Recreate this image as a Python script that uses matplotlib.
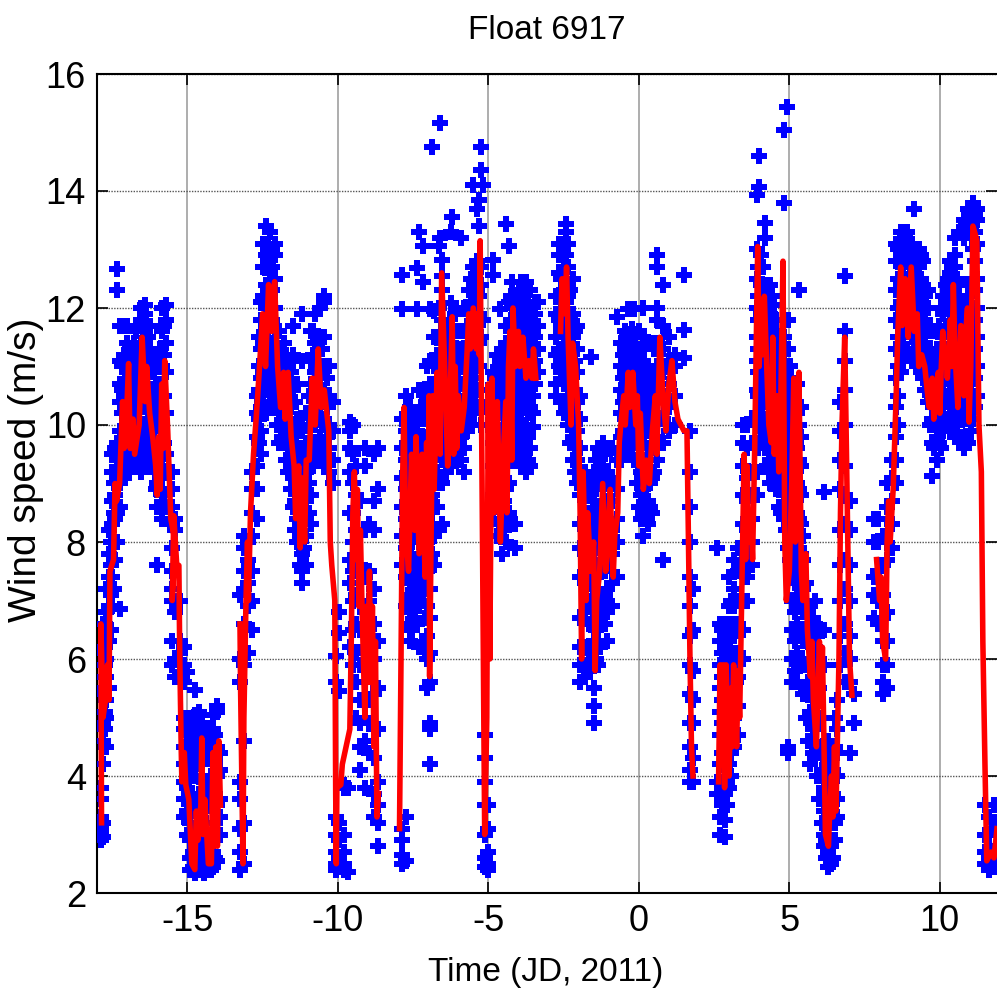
import numpy as np
import matplotlib
matplotlib.use("Agg")
import matplotlib.pyplot as plt

plt.rcParams['font.family'] = ['Liberation Sans', 'DejaVu Sans']
plt.rcParams['axes.unicode_minus'] = False

# blue samples: time -> wind speeds seen at that time
burst_a = {
    -17.88: [2.9, 3.0, 3.1, 3.3, 3.6, 3.8],
    -17.8: [2.95, 3.2, 4.2, 4.6, 4.9, 5.4, 5.7, 6.1, 6.6],
    -17.7: [4.5, 5.0, 5.3, 5.7, 6.0, 6.4, 6.8, 7.2],
    -17.6: [5.5, 6.3, 6.9, 7.4, 7.8, 8.2],
    -17.5: [6.9, 7.4, 8.3, 8.7, 9.2, 9.5],
    -17.4: [7.7, 8.4, 8.8, 9.2, 9.6],
    -17.34: [8.0, 8.5, 9.0, 9.4, 9.7, 12.3, 12.67],
    -17.24: [6.85, 8.6, 9.0, 9.5, 9.9, 10.4, 10.7, 11.1, 11.7],
    -17.1: [9.1, 9.5, 9.9, 10.5, 11.2, 11.7],
    -17.0: [9.2, 9.6, 10.0, 10.4, 10.9, 11.4, 11.7],
    -16.85: [9.3, 9.7, 10.1, 10.6, 11.1],
    -16.7: [9.4, 9.9, 10.3, 10.8, 11.2, 11.6],
    -16.55: [9.2, 9.6, 10.0, 10.5, 11.0, 11.4, 11.8, 12.0],
    -16.4: [9.3, 9.8, 10.3, 10.9, 11.4, 11.9, 12.05],
    -16.25: [9.5, 9.9, 10.4, 10.9, 11.3, 11.7],
    -16.1: [9.4, 9.9, 10.4, 10.9, 11.2],
    -16.0: [7.6, 8.6, 9.0, 9.5, 10.0, 10.5, 11.0],
    -15.85: [8.4, 8.8, 9.3, 9.9, 10.5, 11.0, 11.6, 12.0],
    -15.7: [8.6, 9.5, 10.2, 10.9, 11.4, 11.8, 12.05],
    -15.5: [5.9, 6.3, 7.0, 7.2, 7.5, 7.9, 8.3, 8.6, 8.9, 9.2],
    -15.4: [5.7, 6.0, 6.8, 7.0, 8.2, 8.4],
    -15.25: [5.9, 6.1, 6.3, 7.0],
    -15.1: [3.3, 3.6, 3.9, 4.2, 4.5, 4.8, 5.0, 5.6, 5.9, 6.2],
    -15.0: [3.0, 3.4, 3.8, 4.1, 4.4, 4.7, 5.0, 5.78],
    -14.9: [2.4, 2.6, 2.9, 3.2, 3.6, 4.4, 4.8, 5.0],
    -14.75: [2.35, 2.5, 2.8, 3.1, 3.5, 4.0, 4.5, 5.05, 5.47],
    -14.6: [2.4, 2.7, 3.2, 3.7, 4.2, 4.6, 5.1],
    -14.45: [2.35, 2.6, 3.0, 3.4, 3.9],
    -14.3: [2.4, 2.6, 3.0, 3.5, 4.4, 4.7],
    -14.15: [2.45, 2.7, 3.2, 3.8, 4.3, 4.8, 5.05],
    -14.0: [2.55, 3.0, 3.5, 4.0, 4.5, 5.1, 5.2],
    -13.9: [3.0, 3.3, 3.6, 4.1, 4.4],
}
burst_b = {
    -13.25: [2.4, 2.7, 3.1, 3.6, 3.9, 5.6, 6.0, 7.1],
    -13.1: [2.5, 3.2, 4.6, 5.9, 6.6, 7.2, 7.5, 7.9, 8.1],
    -13.0: [6.1, 6.9, 7.3, 7.7, 8.0],
    -12.85: [6.5, 7.0, 7.5, 8.1, 8.5, 8.9, 9.2],
    -12.7: [8.4, 8.9, 9.3, 9.8, 10.2, 10.5],
    -12.55: [9.5, 9.9, 10.3, 10.8, 11.3, 11.8, 12.1],
    -12.4: [10.2, 10.7, 11.2, 11.6, 12.0, 12.4, 12.9, 13.4],
    -12.25: [10.4, 10.9, 11.4, 11.8, 12.2, 12.6, 13.0, 13.3],
    -12.1: [10.3, 10.8, 11.2, 11.6, 12.0, 12.5, 12.9, 13.1],
    -11.95: [9.7, 10.2, 10.7, 11.1, 11.6],
    -11.8: [10.0, 10.5, 10.9, 11.4],
    -11.65: [9.2, 9.6, 10.1, 10.6, 11.0],
    -11.5: [8.6, 9.1, 9.5, 10.0, 10.6, 11.2, 11.7],
    -11.35: [8.0, 8.4, 8.9, 9.4, 10.1, 10.7],
    -11.2: [7.3, 7.5, 7.8, 8.3, 8.8, 9.3, 9.9, 11.1, 11.9],
    -11.05: [7.6, 8.1, 8.7, 9.2, 9.7, 10.2],
    -10.9: [8.3, 8.8, 9.3, 9.7, 10.2, 10.7, 11.1, 11.6],
    -10.75: [9.5, 10.0, 10.5, 10.9, 11.4, 11.9],
    -10.6: [9.4, 9.8, 10.3, 10.8, 11.3, 12.0],
    -10.45: [9.3, 9.7, 10.1, 10.6, 11.0, 11.5, 12.1, 12.2],
    -10.3: [9.2, 9.6, 10.0, 10.5, 11.0],
    -10.15: [9.0, 9.4, 9.9, 10.4],
    -10.05: [2.4, 2.5, 2.7, 3.0, 3.3, 5.6, 6.05],
    -9.95: [2.45, 2.6, 2.9, 3.2, 5.45, 6.45, 6.8],
    -9.8: [2.4, 2.5, 2.7, 3.0, 3.8, 3.85],
    -9.65: [2.36, 3.8],
}
burst_c = {
    -9.6: [6.2, 7.3, 7.7, 8.5, 9.2, 9.6, 9.9, 10.05],
    -9.5: [5.9, 6.5, 7.0, 7.5, 8.0, 8.5, 9.0, 9.5, 10.0],
    -9.4: [5.0, 5.6, 6.1, 6.6, 7.1, 7.6, 8.2, 8.8, 9.3],
    -9.25: [4.1, 4.5, 4.9, 5.3, 5.9, 6.5, 7.0, 7.6, 8.7],
    -9.1: [3.8, 4.6, 5.0, 5.6, 6.2, 6.8, 7.4, 8.2, 9.3, 9.6],
    -8.95: [4.4, 4.9, 5.3, 5.9, 6.4, 7.0, 7.5, 8.3],
    -8.8: [3.3, 3.7, 4.3, 4.8, 5.4, 6.0, 6.6, 7.2, 8.2, 8.7, 9.5],
    -8.65: [2.8, 3.2, 3.5, 3.9, 4.8, 5.5, 6.3, 8.9, 9.6],
}
burst_d = {
    -7.87: [2.5, 2.65, 2.9, 3.1, 7.6, 8.1, 8.6, 9.1, 9.6, 10.1, 11.98, 12.57],
    -7.75: [2.55, 3.3, 6.9, 7.4, 7.9, 8.4, 8.9, 9.4, 9.9, 10.5],
    -7.6: [6.3, 6.8, 7.3, 7.8, 8.3, 8.8, 9.3, 9.8, 10.3],
    -7.45: [6.7, 7.2, 7.7, 8.2, 8.7, 9.2, 9.7, 10.2],
    -7.38: [11.98, 12.68],
    -7.31: [6.2, 6.9, 7.4, 8.0, 8.5, 9.1, 9.6, 10.1, 10.6, 13.3],
    -7.17: [7.0, 7.6, 8.1, 8.6, 9.1, 9.6, 10.1, 10.6, 12.44, 13.06],
    -7.05: [5.5, 6.0, 6.4, 6.9, 7.5, 8.0, 8.5, 9.0, 9.6, 10.1, 10.5, 11.0],
    -6.94: [4.2, 4.8, 4.9, 5.6, 6.1, 6.7, 7.2, 7.7, 8.2, 8.7, 9.2, 9.8, 10.3, 10.7, 11.1, 11.98],
    -6.88: [14.75],
    -6.8: [7.6, 8.1, 8.6, 9.0, 9.5, 10.0, 10.5, 11.0, 11.5, 11.95],
    -6.64: [8.2, 9.0, 9.5, 10.0, 10.5, 11.0, 11.5, 12.0, 13.06],
    -6.61: [13.2, 15.16],
    -6.54: [8.3, 9.0, 9.4, 10.0, 10.4, 10.9, 11.4, 11.8, 12.3, 12.55, 12.82],
    -6.4: [9.2, 9.6, 10.0, 10.4, 10.9, 11.4, 11.7],
    -6.25: [9.3, 9.7, 10.1, 10.5, 11.0, 11.4, 12.08, 13.3],
    -6.21: [13.56],
    -6.1: [9.5, 9.9, 10.3, 10.7, 11.1, 11.6, 11.9],
    -5.91: [9.4, 9.8, 10.2, 10.7, 11.1, 11.6, 13.2],
    -5.8: [9.2, 9.6, 10.0, 10.4, 11.2, 11.6, 12.0],
    -5.65: [10.1, 10.5, 10.9, 11.4, 11.9, 12.3],
    -5.51: [10.2, 10.6, 11.0, 11.4, 11.9, 12.3, 12.7, 14.1],
    -5.38: [10.3, 10.6, 11.0, 11.4, 11.9, 12.3, 12.8, 13.7],
    -5.31: [10.3, 10.6, 11.0, 11.4, 11.9, 12.2, 12.7, 13.4, 13.85],
    -5.25: [10.0, 10.3, 11.5, 12.4, 12.7, 14.36, 14.75],
    -5.18: [10.3, 11.8, 14.1],
    -5.1: [2.45, 2.6, 3.0, 3.5, 3.9, 4.3, 4.7],
    -5.0: [2.4, 2.5, 2.7, 3.1, 3.5, 10.0, 10.3, 10.6],
}
burst_e = {
    -4.85: [8.4, 8.8, 9.3, 9.7, 10.2, 10.6, 10.9, 12.57, 12.82],
    -4.7: [8.1, 8.6, 9.1, 9.5, 10.0, 10.5, 10.9, 11.2],
    -4.62: [11.98],
    -4.55: [7.8, 8.3, 8.8, 9.3, 9.7, 10.2, 10.6, 11.0, 11.3],
    -4.42: [8.0, 8.4, 8.9, 9.3, 9.8, 10.2, 10.6, 11.0, 11.4, 11.7, 13.43],
    -4.32: [8.5, 9.0, 9.5, 9.9, 10.3, 10.7, 11.2, 11.7, 12.1, 13.06],
    -4.2: [9.5, 10.0, 10.3, 10.8, 11.2, 11.6, 12.0, 12.44],
    -4.1: [7.9, 8.3],
    -4.05: [9.4, 9.8, 10.2, 10.7, 11.1, 11.5, 11.9, 12.2],
    -3.9: [9.3, 9.7, 10.2, 10.6, 11.0, 11.4, 11.8, 12.2, 12.44],
    -3.75: [9.2, 9.6, 10.0, 10.4, 10.8, 11.2, 11.6, 12.0, 12.44],
    -3.6: [9.3, 9.6, 10.3, 10.7, 11.1, 11.5, 11.9, 12.3],
    -3.52: [9.97, 10.2],
    -3.45: [10.7, 11.1, 11.5, 11.9, 12.1],
    -3.35: [10.9, 11.3, 11.7, 12.1],
}
burst_f = {
    -2.75: [10.5, 10.7, 11.2, 11.5, 11.9, 12.2],
    -2.65: [11.0, 11.3, 11.8, 12.2, 12.6, 12.9, 13.1],
    -2.5: [10.2, 10.7, 11.1, 11.5, 11.9, 12.3, 12.7, 13.1],
    -2.43: [13.3, 13.43],
    -2.35: [10.0, 10.5, 11.1, 11.6, 12.2, 12.7, 13.1],
    -2.2: [9.4, 9.8, 10.3, 10.9, 11.5, 11.9, 12.5],
    -2.05: [9.0, 9.4, 9.9, 10.4, 10.9, 11.3, 11.7],
    -1.95: [5.6, 5.9, 6.2, 6.7, 7.4, 7.9, 8.3, 8.8, 9.2, 9.6, 10.1, 10.5],
    -1.8: [5.7, 5.9, 6.2, 6.8, 7.3, 7.8, 8.3, 8.8, 9.2],
    -1.65: [5.8, 6.1, 6.6, 7.0, 7.5, 8.0, 8.5, 9.0],
    -1.59: [11.16],
    -1.5: [4.9, 5.2, 5.5, 5.9, 6.3, 6.8, 7.2, 7.7, 8.2, 8.7, 9.2],
    -1.35: [5.9, 6.3, 6.7, 7.1, 7.6, 8.1, 8.6, 9.1, 9.6],
    -1.2: [6.6, 7.0, 7.5, 7.9, 8.4, 8.9, 9.3, 9.7],
    -1.05: [6.3, 6.8, 7.2, 7.7, 8.2, 8.7, 9.2, 9.6],
    -0.9: [6.9, 7.3, 7.8, 8.2, 8.7, 9.1, 9.6],
    -0.73: [7.4, 8.0, 8.4, 8.9, 9.4, 11.85],
    -0.6: [9.4, 9.8, 10.2, 10.6, 11.0, 11.4],
    -0.45: [9.7, 10.1, 10.5, 10.9, 11.3, 11.6],
    -0.37: [11.98],
    -0.3: [9.8, 10.2, 10.6, 11.0, 11.4],
    -0.23: [11.64],
    -0.15: [9.4, 9.9, 10.4, 10.8, 11.3, 11.98],
    0.0: [8.6, 9.0, 9.4, 9.8, 10.2, 10.7, 11.2, 11.6],
    0.15: [8.1, 8.5, 8.9, 9.3, 9.7, 10.2, 10.6, 11.1, 11.5, 12.0],
    0.3: [8.3, 8.7, 9.2, 9.6, 10.1, 10.5, 10.9],
    0.45: [8.5, 9.1, 9.6, 10.0, 10.4, 10.8, 11.4],
    0.6: [9.4, 9.8, 10.2, 10.6, 11.0, 11.4, 11.8, 12.0, 12.7, 12.9],
    0.8: [7.7, 9.7, 10.1, 10.5, 10.9, 11.3, 11.7, 12.4],
    1.0: [9.9, 10.3, 10.7, 11.1, 11.5],
    1.2: [10.0, 10.5, 11.0, 11.2],
    1.5: [11.15, 11.62, 12.56],
    1.7: [3.9, 4.1, 4.5, 4.9, 5.4, 5.9, 6.4, 6.9, 7.4, 8.0, 8.6, 9.2, 9.9],
    1.8: [3.9, 4.3, 4.9, 5.3, 5.8, 6.5, 7.2],
}
burst_g = {
    2.6: [3.7, 3.9, 7.9],
    2.7: [3.0, 3.3, 3.7, 4.2, 4.7, 5.1, 5.5, 5.9, 6.3, 6.6],
    2.85: [2.95, 3.25, 3.7, 4.1, 4.6, 5.0, 5.4, 5.8, 6.2, 6.6],
    3.0: [3.8, 4.2, 4.6, 5.0, 5.4, 5.9, 6.4, 6.9, 7.4],
    3.15: [4.5, 5.0, 5.4, 5.9, 6.4, 6.9, 7.2, 7.7],
    3.3: [4.7, 5.2, 5.7, 6.1, 6.6, 7.0, 7.5, 7.9],
}
burst_h = {
    3.45: [6.0, 6.5, 7.0, 7.5, 7.9, 8.3, 8.8, 9.3, 9.7, 10.0],
    3.6: [7.0, 7.4, 7.8, 8.2, 8.7, 9.1, 9.6, 10.0],
    3.75: [7.6, 8.0, 8.4, 8.8, 9.2, 9.7, 10.1],
    3.92: [8.8, 9.2, 9.7, 10.2, 10.6, 11.1, 11.5, 12.0, 12.5, 13.0, 13.93],
    3.98: [14.06, 14.6],
    4.05: [9.9, 10.3, 10.7, 11.1, 11.5, 11.9, 12.4, 12.9],
    4.19: [9.6, 10.0, 10.4, 10.8, 11.2, 11.6, 12.0, 12.4, 13.2, 13.45],
    4.35: [9.0, 9.4, 9.8, 10.3, 10.7, 11.1, 11.6, 11.9, 12.4],
    4.5: [9.1, 9.5, 9.9, 10.3, 10.8, 11.2, 11.6, 12.05],
    4.65: [8.6, 9.0, 9.5, 9.9, 10.4, 10.8, 11.2, 11.5],
    4.82: [8.4, 8.8, 9.2, 9.7, 10.1, 10.6, 11.0, 11.5, 13.8, 15.04],
    4.92: [15.44],
    4.97: [4.4, 4.5, 7.9, 8.4, 8.9, 9.4, 9.9, 10.3, 10.8, 11.3, 11.8],
    5.1: [5.6, 6.0, 6.5, 7.0, 7.5, 8.0, 8.5, 9.0, 9.6, 10.2, 10.7],
    5.25: [5.6, 6.1, 6.6, 7.1, 7.6, 8.1, 8.5, 9.0, 9.6, 10.2, 10.7],
    5.32: [12.3],
    5.4: [6.0, 6.5, 7.0, 7.4, 7.8, 8.3, 8.8, 9.3, 9.8, 10.3],
    5.55: [5.0, 5.5, 5.9, 6.4, 6.8, 7.3],
    5.7: [4.2, 4.6, 5.1, 5.6, 6.0, 6.5, 6.9],
    5.85: [4.4, 4.8, 5.3, 5.8, 6.2, 6.6, 7.0],
    6.0: [3.6, 4.0, 4.5, 5.0, 5.5, 6.0, 6.5],
    6.15: [2.8, 3.0, 3.4, 3.8, 4.3, 5.9, 6.5, 8.85],
    6.3: [2.45, 2.7, 3.0, 3.4, 3.8, 4.2, 4.6],
    6.45: [2.6, 2.9, 3.3, 3.7, 4.1, 4.5],
    6.6: [3.3, 3.6, 4.0, 4.4, 4.8, 5.3],
    6.7: [5.9, 6.4, 7.0, 7.6, 8.2, 8.9, 9.4, 9.9, 10.4],
    6.85: [5.6, 6.1, 6.6, 7.2, 7.7, 8.3, 8.8, 9.3, 10.0, 10.6, 11.1, 11.6, 12.55],
    7.0: [4.4, 5.6, 6.0, 6.4, 7.0, 7.6, 8.2, 8.7],
    7.15: [4.9, 5.4],
}
burst_i = {
    7.8: [6.7, 7.1, 7.4, 8.0, 8.4],
    7.95: [6.6, 7.0, 7.5, 8.0, 8.4],
    8.1: [5.4, 5.6, 5.9, 6.3, 6.7, 7.1, 7.6, 8.1],
    8.25: [5.5, 5.9, 6.3, 6.8, 7.7, 8.6, 9.0],
    8.4: [7.9, 8.3, 8.7, 9.1, 9.4],
    8.55: [9.0, 9.4, 9.8, 10.3, 10.8, 11.3, 11.8, 12.3, 12.8, 13.1],
    8.7: [10.9, 11.3, 11.7, 12.1, 12.5, 12.9, 13.3],
    8.85: [11.2, 11.6, 12.0, 12.4, 12.8, 13.2],
    9.0: [11.2, 11.6, 11.9, 12.3, 12.7, 13.1],
    9.15: [11.1, 11.5, 11.9, 12.3, 12.7, 13.7],
    9.3: [11.0, 11.4, 11.9, 12.3, 12.7, 13.0],
    9.45: [10.8, 11.2, 11.6, 12.0, 12.4, 12.8],
    9.6: [10.4, 10.8, 11.2, 11.6, 12.0, 12.3],
    9.75: [9.13, 9.7, 10.1, 10.5, 10.9, 11.2, 11.6],
    9.9: [9.4, 9.8, 10.2, 10.5, 10.9, 11.3],
    10.05: [9.6, 10.0, 10.4, 10.8, 11.2, 11.6, 12.0],
    10.2: [10.1, 10.5, 10.9, 11.3, 11.7, 12.1, 12.4],
    10.35: [9.9, 10.3, 10.7, 11.1, 11.5, 11.9, 12.3, 12.6, 12.8],
    10.5: [9.8, 10.2, 10.6, 11.0, 11.4, 11.8, 12.2, 12.7, 12.9, 13.2],
    10.65: [9.8, 10.2, 10.6, 11.0, 11.4, 11.8, 12.2, 13.3],
    10.8: [9.6, 10.1, 10.5, 10.9, 11.3, 11.7, 12.1, 13.2, 13.5],
    10.95: [9.7, 10.1, 10.5, 10.9, 11.4, 11.9, 12.4, 13.3, 13.7],
    11.1: [10.1, 10.5, 11.0, 11.5, 12.0, 12.5, 13.0, 13.5, 13.8],
    11.25: [10.5, 11.0, 11.5, 12.0, 12.5, 13.1, 13.5, 13.7],
    11.5: [2.5, 2.7, 3.0, 3.5],
    11.65: [2.4, 2.6, 3.0, 3.3],
    11.8: [2.45, 2.7, 3.1, 3.5],
    11.9: [2.5, 2.8, 3.2, 3.5],
}
# samples in the solid blue parts, between the columns above
dense_left = {
    -17.75: [4.8, 5.1, 5.5, 5.9, 6.2, 6.6], -17.55: [6.5, 7.1, 7.6, 8.0], -17.45: [7.2, 8.0, 8.5, 9.0],
    -17.17: [9.3, 9.7, 10.2, 10.6, 11.0], -17.05: [9.4, 9.8, 10.2, 10.7, 11.1], -16.92: [9.5, 9.9, 10.3, 10.8, 11.3],
    -16.78: [9.6, 10.1, 10.5, 11.0, 11.4], -16.62: [9.4, 9.8, 10.3, 10.7, 11.2, 11.7], -16.48: [9.5, 10.0, 10.6, 11.1, 11.6],
    -16.32: [9.7, 10.1, 10.6, 11.1, 11.5], -16.18: [9.6, 10.1, 10.6, 11.0], -16.05: [8.9, 9.2, 9.7, 10.2, 10.7],
    -15.92: [8.6, 9.1, 9.6, 10.2, 10.7, 11.3], -15.78: [8.8, 9.7, 10.5, 11.2, 11.7],
    -14.82: [2.45, 2.7, 3.0, 3.4, 4.2, 4.6, 4.9], -14.68: [2.4, 2.6, 3.0, 3.4, 4.3, 4.8],
    -14.52: [2.5, 2.9, 3.5, 4.0, 4.4, 4.9], -14.37: [2.45, 2.8, 3.2, 4.5], -14.22: [2.4, 2.9, 3.5, 4.0, 4.6],
    -14.07: [2.6, 3.2, 3.7, 4.2, 4.7],
    -12.62: [9.7, 10.1, 10.6, 11.0, 11.5], -12.47: [10.4, 10.9, 11.4, 11.8, 12.2, 12.7, 13.1],
    -12.32: [10.6, 11.1, 11.6, 12.0, 12.4, 12.8, 13.1], -12.17: [10.6, 11.0, 11.4, 11.8, 12.3, 12.7, 13.0],
    -12.02: [10.0, 10.5, 10.9, 11.3], -11.87: [9.8, 10.3, 10.7, 11.2], -11.72: [9.4, 9.9, 10.3, 10.8, 11.2],
    -11.57: [8.9, 9.3, 9.8, 10.3, 10.9], -11.42: [8.2, 8.7, 9.2, 9.7, 10.4], -11.27: [7.6, 8.1, 8.6, 9.1, 9.6],
    -11.12: [7.9, 8.4, 8.9, 9.4], -10.97: [8.5, 9.0, 9.5, 10.0, 10.5], -10.82: [9.3, 9.7, 10.2, 10.7, 11.2, 11.6],
    -10.67: [9.6, 10.1, 10.6, 11.0, 11.5], -10.52: [9.5, 10.0, 10.4, 10.9, 11.3], -10.37: [9.4, 9.8, 10.3, 10.8],
}
dense_middle = {
    -7.68: [6.6, 7.1, 7.6, 8.1, 8.6, 9.1, 9.6, 10.1], -7.52: [6.5, 7.0, 7.5, 8.0, 8.5, 9.0, 9.5, 10.0],
    -7.38: [6.6, 7.1, 7.6, 8.2, 8.8, 9.4, 9.9], -7.24: [7.3, 7.8, 8.3, 8.8, 9.3, 9.8, 10.3],
    -7.1: [6.2, 6.7, 7.2, 7.7, 8.2, 8.7, 9.3, 9.8, 10.3], -6.87: [7.8, 8.3, 8.8, 9.2, 9.7, 10.2, 10.7],
    -6.7: [8.6, 9.2, 9.7, 10.2, 10.7, 11.2], -6.47: [9.4, 9.8, 10.2, 10.6, 11.1, 11.5], -6.32: [9.5, 9.9, 10.3, 10.7, 11.2],
    -6.17: [9.7, 10.1, 10.5, 10.9, 11.3], -6.0: [9.6, 10.0, 10.5, 10.9, 11.3], -5.72: [9.9, 10.3, 10.7, 11.2, 11.7],
    -5.58: [10.0, 10.4, 10.8, 11.2, 11.7, 12.1, 12.5], -5.44: [10.4, 10.8, 11.2, 11.6, 12.1, 12.5],
    -4.78: [8.6, 9.0, 9.5, 9.9, 10.4, 10.8], -4.62: [8.4, 8.9, 9.4, 9.8, 10.3, 10.7, 11.1],
    -4.48: [8.2, 8.7, 9.1, 9.6, 10.0, 10.4, 10.8, 11.2], -4.26: [9.8, 10.2, 10.6, 11.0, 11.4, 11.8, 12.2],
    -4.12: [9.7, 10.1, 10.5, 10.9, 11.3, 11.7, 12.1], -3.97: [9.5, 9.9, 10.4, 10.8, 11.2, 11.6, 12.0, 12.3],
    -3.82: [9.5, 9.9, 10.3, 10.7, 11.1, 11.5, 11.9, 12.3], -3.67: [9.4, 9.8, 10.2, 10.5, 10.9, 11.3, 11.7, 12.1],
    -3.5: [10.5, 10.9, 11.3, 11.7],
    -2.58: [10.4, 10.9, 11.3, 11.7, 12.1, 12.5, 12.9], -2.42: [10.3, 10.8, 11.3, 11.7, 12.1, 12.5, 12.9],
    -2.28: [9.7, 10.2, 10.8, 11.3, 11.8, 12.3], -2.12: [9.2, 9.6, 10.1, 10.6, 11.1, 11.6],
    -1.42: [6.0, 6.5, 6.9, 7.4, 7.9, 8.4, 8.9, 9.4], -1.28: [6.2, 6.6, 7.0, 7.5, 8.0, 8.5, 9.0, 9.5],
    -1.12: [6.6, 7.1, 7.5, 8.0, 8.5, 9.0, 9.5], -0.52: [9.5, 9.9, 10.4, 10.8, 11.2], -0.38: [9.9, 10.3, 10.7, 11.1, 11.5],
    -0.22: [9.6, 10.0, 10.5, 10.9, 11.3], -0.07: [9.0, 9.4, 9.8, 10.2, 10.6, 11.0],
    0.08: [8.4, 8.8, 9.2, 9.6, 10.0, 10.4, 10.9, 11.3], 0.22: [8.5, 9.0, 9.4, 9.9, 10.3, 10.8],
    0.38: [8.6, 9.0, 9.4, 9.9, 10.3, 10.7], 0.52: [9.2, 9.7, 10.1, 10.5, 10.9, 11.3],
}
dense_right = {
    2.77: [3.5, 3.9, 4.4, 4.9, 5.3, 5.7, 6.1, 6.5], 2.92: [3.5, 3.9, 4.4, 4.8, 5.2, 5.6, 6.0, 6.4],
    3.07: [4.0, 4.4, 4.8, 5.2, 5.7, 6.1, 6.6, 7.0], 3.22: [4.7, 5.2, 5.6, 6.1, 6.6, 7.0],
    3.97: [9.6, 10.0, 10.5, 10.9, 11.3, 11.8, 12.2, 12.7], 4.12: [9.7, 10.1, 10.5, 11.0, 11.4, 11.8, 12.2, 12.7],
    4.27: [9.3, 9.7, 10.1, 10.5, 11.0, 11.4, 11.8, 12.2], 4.42: [9.2, 9.6, 10.1, 10.5, 10.9, 11.3, 11.8, 12.2],
    4.57: [8.9, 9.3, 9.7, 10.1, 10.6, 11.0, 11.4, 11.8], 4.72: [8.5, 8.9, 9.3, 9.7, 10.2, 10.6, 11.0],
    4.88: [8.2, 8.6, 9.1, 9.5, 10.0, 10.4, 10.9, 11.3], 5.03: [7.7, 8.2, 8.7, 9.2, 9.7, 10.1, 10.5, 11.0],
    5.18: [5.8, 6.3, 6.8, 7.3, 7.8, 8.3, 8.8, 9.3, 9.9, 10.4], 5.33: [5.9, 6.4, 6.9, 7.4, 7.9, 8.4, 8.9, 9.4, 10.0],
    5.47: [5.4, 5.9, 6.3, 6.8, 7.2, 7.7, 8.1], 5.62: [4.6, 5.0, 5.5, 5.9, 6.4, 6.8], 5.78: [4.4, 4.8, 5.3, 5.7, 6.2, 6.7],
    5.93: [4.0, 4.5, 5.0, 5.5, 6.0, 6.4], 6.08: [3.2, 3.6, 4.1, 4.5, 5.0], 6.22: [2.6, 2.9, 3.2, 3.6, 4.0, 4.4],
    6.37: [2.5, 2.8, 3.2, 3.6, 4.0, 4.4], 6.52: [2.9, 3.2, 3.6, 4.0, 4.5, 5.0],
    8.62: [10.0, 10.5, 11.0, 11.5, 12.0, 12.5, 13.0], 8.77: [11.1, 11.5, 11.9, 12.3, 12.7, 13.1],
    8.92: [11.3, 11.7, 12.1, 12.5, 12.9, 13.3], 9.07: [11.1, 11.5, 11.9, 12.3, 12.7, 13.1],
    9.22: [11.2, 11.7, 12.1, 12.5, 12.9], 9.37: [10.9, 11.3, 11.7, 12.1, 12.5, 12.9], 9.52: [10.6, 11.0, 11.4, 11.8, 12.2],
    9.67: [10.0, 10.4, 10.8, 11.2, 11.6], 9.82: [9.6, 10.0, 10.3, 10.7, 11.1], 9.97: [9.7, 10.1, 10.5, 10.9, 11.3, 11.7],
    10.12: [9.9, 10.3, 10.7, 11.1, 11.5, 11.9, 12.2], 10.27: [10.0, 10.4, 10.8, 11.2, 11.6, 12.0, 12.5],
    10.42: [9.9, 10.3, 10.7, 11.1, 11.5, 11.9, 12.3, 12.7], 10.57: [10.0, 10.4, 10.8, 11.2, 11.6, 12.0, 12.5],
    10.72: [9.8, 10.3, 10.7, 11.1, 11.5, 11.9], 10.87: [9.8, 10.3, 10.7, 11.1, 11.6, 12.0, 13.4],
    11.02: [9.9, 10.3, 10.7, 11.2, 11.7, 12.2, 13.4, 13.6], 11.17: [10.3, 10.8, 11.3, 11.8, 12.3, 12.8, 13.3, 13.6],
}
bursts = [burst_a, burst_b, burst_c, burst_d, burst_e, burst_f, burst_g, burst_h, burst_i,
          dense_left, dense_middle, dense_right]

# red line, pieces are split by the data gaps
red_1 = [(-17.85, 3.2), (-17.87, 6.6), (-17.8, 5.0), (-17.72, 5.3), (-17.65, 5.9), (-17.6, 5.3), (-17.57, 7.5),
         (-17.45, 7.7), (-17.4, 9.0), (-17.35, 8.7), (-17.25, 9.0), (-17.15, 10.4), (-17.1, 9.6), (-17.0, 10.4),
         (-16.95, 11.05), (-16.9, 9.6), (-16.8, 10.1), (-16.75, 9.5), (-16.6, 10.0), (-16.5, 11.5), (-16.4, 10.4),
         (-16.35, 11.0), (-16.25, 10.2), (-16.15, 9.8), (-16.05, 9.3), (-16.0, 8.8), (-15.95, 9.8), (-15.9, 8.9),
         (-15.85, 10.7), (-15.8, 9.6), (-15.75, 11.1), (-15.65, 9.9), (-15.55, 8.4), (-15.4, 8.0), (-15.5, 7.0),
         (-15.45, 8.45), (-15.35, 7.6), (-15.28, 7.6), (-15.25, 6.0), (-15.2, 4.4), (-15.18, 3.9), (-15.1, 4.4),
         (-15.05, 3.85), (-14.95, 3.6), (-14.85, 2.5), (-14.75, 2.4), (-14.7, 3.4), (-14.65, 2.9), (-14.55, 3.5),
         (-14.52, 4.65), (-14.48, 3.0), (-14.42, 3.6), (-14.3, 2.5), (-14.2, 2.5), (-14.15, 4.4), (-14.1, 2.8),
         (-14.05, 4.5), (-14.0, 2.8), (-13.95, 4.6), (-13.9, 3.5)]
red_2 = [(-13.25, 6.6), (-13.23, 5.5), (-13.15, 2.5), (-13.12, 5.0), (-13.05, 7.0), (-13.0, 8.0), (-12.97, 7.0),
         (-12.9, 8.5), (-12.8, 9.5), (-12.7, 10.2), (-12.6, 11.0), (-12.5, 11.9), (-12.4, 11.0), (-12.3, 12.4),
         (-12.2, 11.6), (-12.1, 12.45), (-12.0, 11.0), (-11.9, 10.3), (-11.8, 10.9), (-11.75, 10.1), (-11.65, 10.9),
         (-11.55, 9.8), (-11.45, 9.3), (-11.4, 8.4), (-11.3, 9.3), (-11.25, 7.9), (-11.2, 9.1), (-11.1, 8.0),
         (-11.05, 9.4), (-10.95, 9.4), (-10.85, 10.8), (-10.75, 10.0), (-10.65, 11.3), (-10.55, 10.3), (-10.45, 10.6),
         (-10.3, 9.9), (-10.25, 8.0), (-10.2, 7.6), (-10.1, 7.0), (-10.07, 3.7), (-10.05, 2.5), (-10.03, 3.8),
         (-9.9, 3.85), (-9.85, 4.2), (-9.6, 4.8), (-9.55, 6.4), (-9.5, 8.5), (-9.45, 9.2), (-9.4, 7.7), (-9.35, 8.9),
         (-9.3, 6.9), (-9.25, 8.2), (-9.2, 7.0), (-9.1, 5.0), (-9.05, 6.9), (-9.0, 5.6), (-8.95, 7.5), (-8.9, 5.6),
         (-8.85, 6.9), (-8.8, 4.5), (-8.75, 6.3), (-8.7, 3.3), (-8.65, 3.7)]
red_3 = [(-7.95, 3.1), (-7.9, 6.0), (-7.85, 9.0), (-7.8, 10.3), (-7.75, 8.2), (-7.65, 7.5), (-7.55, 9.5), (-7.45, 8.2),
         (-7.4, 9.8), (-7.3, 7.8), (-7.2, 9.5), (-7.1, 7.4), (-7.05, 9.7), (-7.0, 8.5), (-6.97, 10.5), (-6.95, 5.7),
         (-6.85, 10.5), (-6.8, 8.9), (-6.7, 10.9), (-6.6, 9.5), (-6.55, 12.6), (-6.4, 10.2), (-6.35, 9.3), (-6.3, 9.8),
         (-6.2, 11.85), (-6.15, 9.5), (-6.1, 11.0), (-6.05, 9.6), (-6.0, 10.5), (-5.9, 9.9), (-5.8, 10.3), (-5.7, 11.3),
         (-5.65, 11.9), (-5.6, 11.3), (-5.5, 12.0), (-5.4, 11.3), (-5.35, 11.9), (-5.3, 11.2), (-5.27, 13.15),
         (-5.2, 8.5), (-5.15, 5.0), (-5.12, 3.0), (-5.05, 5.0), (-5.0, 10.7), (-4.95, 6.0), (-4.88, 10.8), (-4.8, 8.5),
         (-4.7, 10.4), (-4.6, 8.0), (-4.5, 9.5), (-4.42, 10.4), (-4.38, 8.5), (-4.33, 11.0), (-4.28, 11.6), (-4.22, 9.4),
         (-4.18, 12.0), (-4.1, 11.0), (-4.0, 11.6), (-3.95, 11.0), (-3.85, 11.5), (-3.75, 10.8), (-3.65, 11.1),
         (-3.55, 10.8), (-3.5, 11.3), (-3.42, 10.8)]
red_4 = [(-2.6, 11.6), (-2.55, 12.5), (-2.45, 11.9), (-2.4, 12.7), (-2.35, 11.5), (-2.25, 10.0), (-2.2, 11.4),
         (-2.1, 11.0), (-2.0, 10.0), (-1.95, 8.5), (-1.9, 6.0), (-1.85, 9.2), (-1.75, 7.0), (-1.7, 8.5), (-1.6, 7.5),
         (-1.5, 8.0), (-1.45, 5.8), (-1.4, 7.0), (-1.3, 7.5), (-1.2, 9.0), (-1.1, 7.5), (-1.05, 7.8), (-0.95, 8.9),
         (-0.85, 7.4), (-0.8, 8.1), (-0.7, 8.5), (-0.65, 9.7), (-0.6, 10.0), (-0.5, 10.5), (-0.45, 10.0), (-0.35, 10.9),
         (-0.3, 10.3), (-0.2, 10.9), (-0.1, 10.0), (-0.05, 10.5), (0.0, 9.3), (0.05, 10.2), (0.15, 8.9), (0.25, 9.4),
         (0.35, 9.0), (0.45, 9.9), (0.55, 10.5), (0.6, 9.5), (0.7, 11.5), (0.8, 10.5), (0.9, 9.9), (1.0, 10.7),
         (1.1, 11.1), (1.2, 10.4), (1.3, 10.1), (1.5, 9.9), (1.6, 9.9), (1.65, 8.0), (1.7, 6.0), (1.75, 4.5), (1.8, 4.0)]
red_5 = [(2.65, 3.9), (2.7, 5.9), (2.75, 4.2), (2.8, 5.9), (2.85, 3.8), (2.9, 5.9), (3.0, 4.0), (3.05, 5.5), (3.1, 4.5),
         (3.15, 5.9), (3.25, 4.5), (3.3, 5.8), (3.35, 5.0), (3.4, 6.5), (3.45, 8.0), (3.5, 9.5), (3.55, 7.7), (3.6, 9.3),
         (3.65, 8.0), (3.72, 8.5), (3.78, 7.7), (3.85, 9.6), (3.95, 13.05), (4.0, 11.0), (4.05, 12.0), (4.1, 11.2),
         (4.17, 12.2), (4.25, 11.0), (4.32, 10.0), (4.4, 9.7), (4.45, 11.5), (4.5, 9.5), (4.6, 10.5), (4.65, 9.2),
         (4.72, 10.5), (4.79, 12.8), (4.85, 8.0), (4.9, 7.0), (5.0, 7.5), (5.08, 9.0), (5.15, 10.8), (5.2, 8.0),
         (5.27, 9.5), (5.32, 10.9), (5.4, 7.5), (5.45, 7.0), (5.55, 7.8), (5.6, 6.5), (5.7, 5.7), (5.75, 6.3), (5.8, 5.3),
         (5.9, 4.5), (6.0, 6.3), (6.05, 5.2), (6.1, 6.2), (6.2, 3.0), (6.3, 2.8), (6.35, 3.5), (6.4, 4.0), (6.45, 3.3),
         (6.5, 4.5), (6.55, 3.4), (6.6, 4.7), (6.65, 6.0), (6.7, 8.5), (6.75, 10.0), (6.84, 11.5), (6.9, 9.5),
         (7.0, 6.0), (7.08, 5.38)]
red_6 = [(7.9, 7.7), (8.0, 7.0), (8.05, 7.4), (8.1, 6.3), (8.2, 6.0), (8.25, 8.0), (8.3, 8.7), (8.35, 8.0), (8.45, 8.9),
         (8.55, 10.5), (8.6, 11.5), (8.7, 12.7), (8.75, 11.7), (8.85, 12.5), (8.95, 11.5), (9.05, 12.7), (9.15, 11.6),
         (9.25, 11.9), (9.3, 11.0), (9.4, 11.2), (9.5, 11.0), (9.6, 10.5), (9.65, 10.3), (9.75, 10.8), (9.8, 10.1),
         (9.9, 10.5), (9.95, 10.9), (10.0, 10.2), (10.05, 11.0), (10.1, 11.6), (10.15, 11.0), (10.2, 11.3), (10.25, 10.8),
         (10.35, 11.8), (10.4, 11.0), (10.45, 12.4), (10.5, 11.3), (10.6, 10.3), (10.7, 11.7), (10.8, 10.5), (10.85, 11.5),
         (10.92, 12.0), (10.97, 10.05), (11.03, 11.0), (11.1, 13.4), (11.23, 13.16), (11.3, 10.0), (11.38, 9.2),
         (11.43, 6.3), (11.5, 4.2), (11.56, 2.55), (11.7, 2.7), (11.8, 2.6), (11.9, 3.1)]
red_pieces = [red_1, red_2, red_3, red_4, red_5, red_6]

x_ticks = [-15, -10, -5, 0, 5, 10]
y_ticks = [2, 4, 6, 8, 10, 12, 14, 16]

fig = plt.figure(figsize=(9.97, 9.96), dpi=100)
ax = fig.add_axes([97 / 997, 1 - 893 / 996, 900 / 997, 819 / 996])

blue_t = []
blue_v = []
for burst in bursts:
    for t, speeds in burst.items():
        blue_t += [t] * len(speeds)
        blue_v += speeds

ax.plot(blue_t, blue_v, linestyle="none", marker="P", markersize=11.5, color="#0000ff",
        markeredgewidth=0, zorder=3)

for piece in red_pieces:
    t, v = zip(*piece)
    ax.plot(t, v, color="#ff0000", linewidth=4.0, solid_joinstyle="round", zorder=4)

ax.set_xlim(-18, 11.9)
ax.set_ylim(2, 16)
ax.set_xticks(x_ticks)
ax.set_yticks(y_ticks)
ax.grid(axis="x", color="#a0a0a0", linewidth=1.2, linestyle="-", zorder=1)
ax.grid(axis="y", color="#555555", linewidth=1.0, linestyle=(0, (1, 1)), zorder=1)
ax.set_axisbelow(True)
ax.tick_params(direction="in", top=True, right=True, length=8, width=1.2, labelsize=26, pad=8)
for s in ax.spines.values():
    s.set_linewidth(1.5)
ax.spines["right"].set_visible(False)

ax.set_title("Float 6917", fontsize=24, y=1.0537, va="center", pad=0)
ax.set_xlabel("Time (JD, 2011)", fontsize=24, va="center")
ax.xaxis.set_label_coords(0.499, -0.0965)
ax.set_ylabel("Wind speed (m/s)", fontsize=28, va="center")
ax.yaxis.set_label_coords(-0.0785, 0.517)

fig.savefig("out.png", dpi=100)
